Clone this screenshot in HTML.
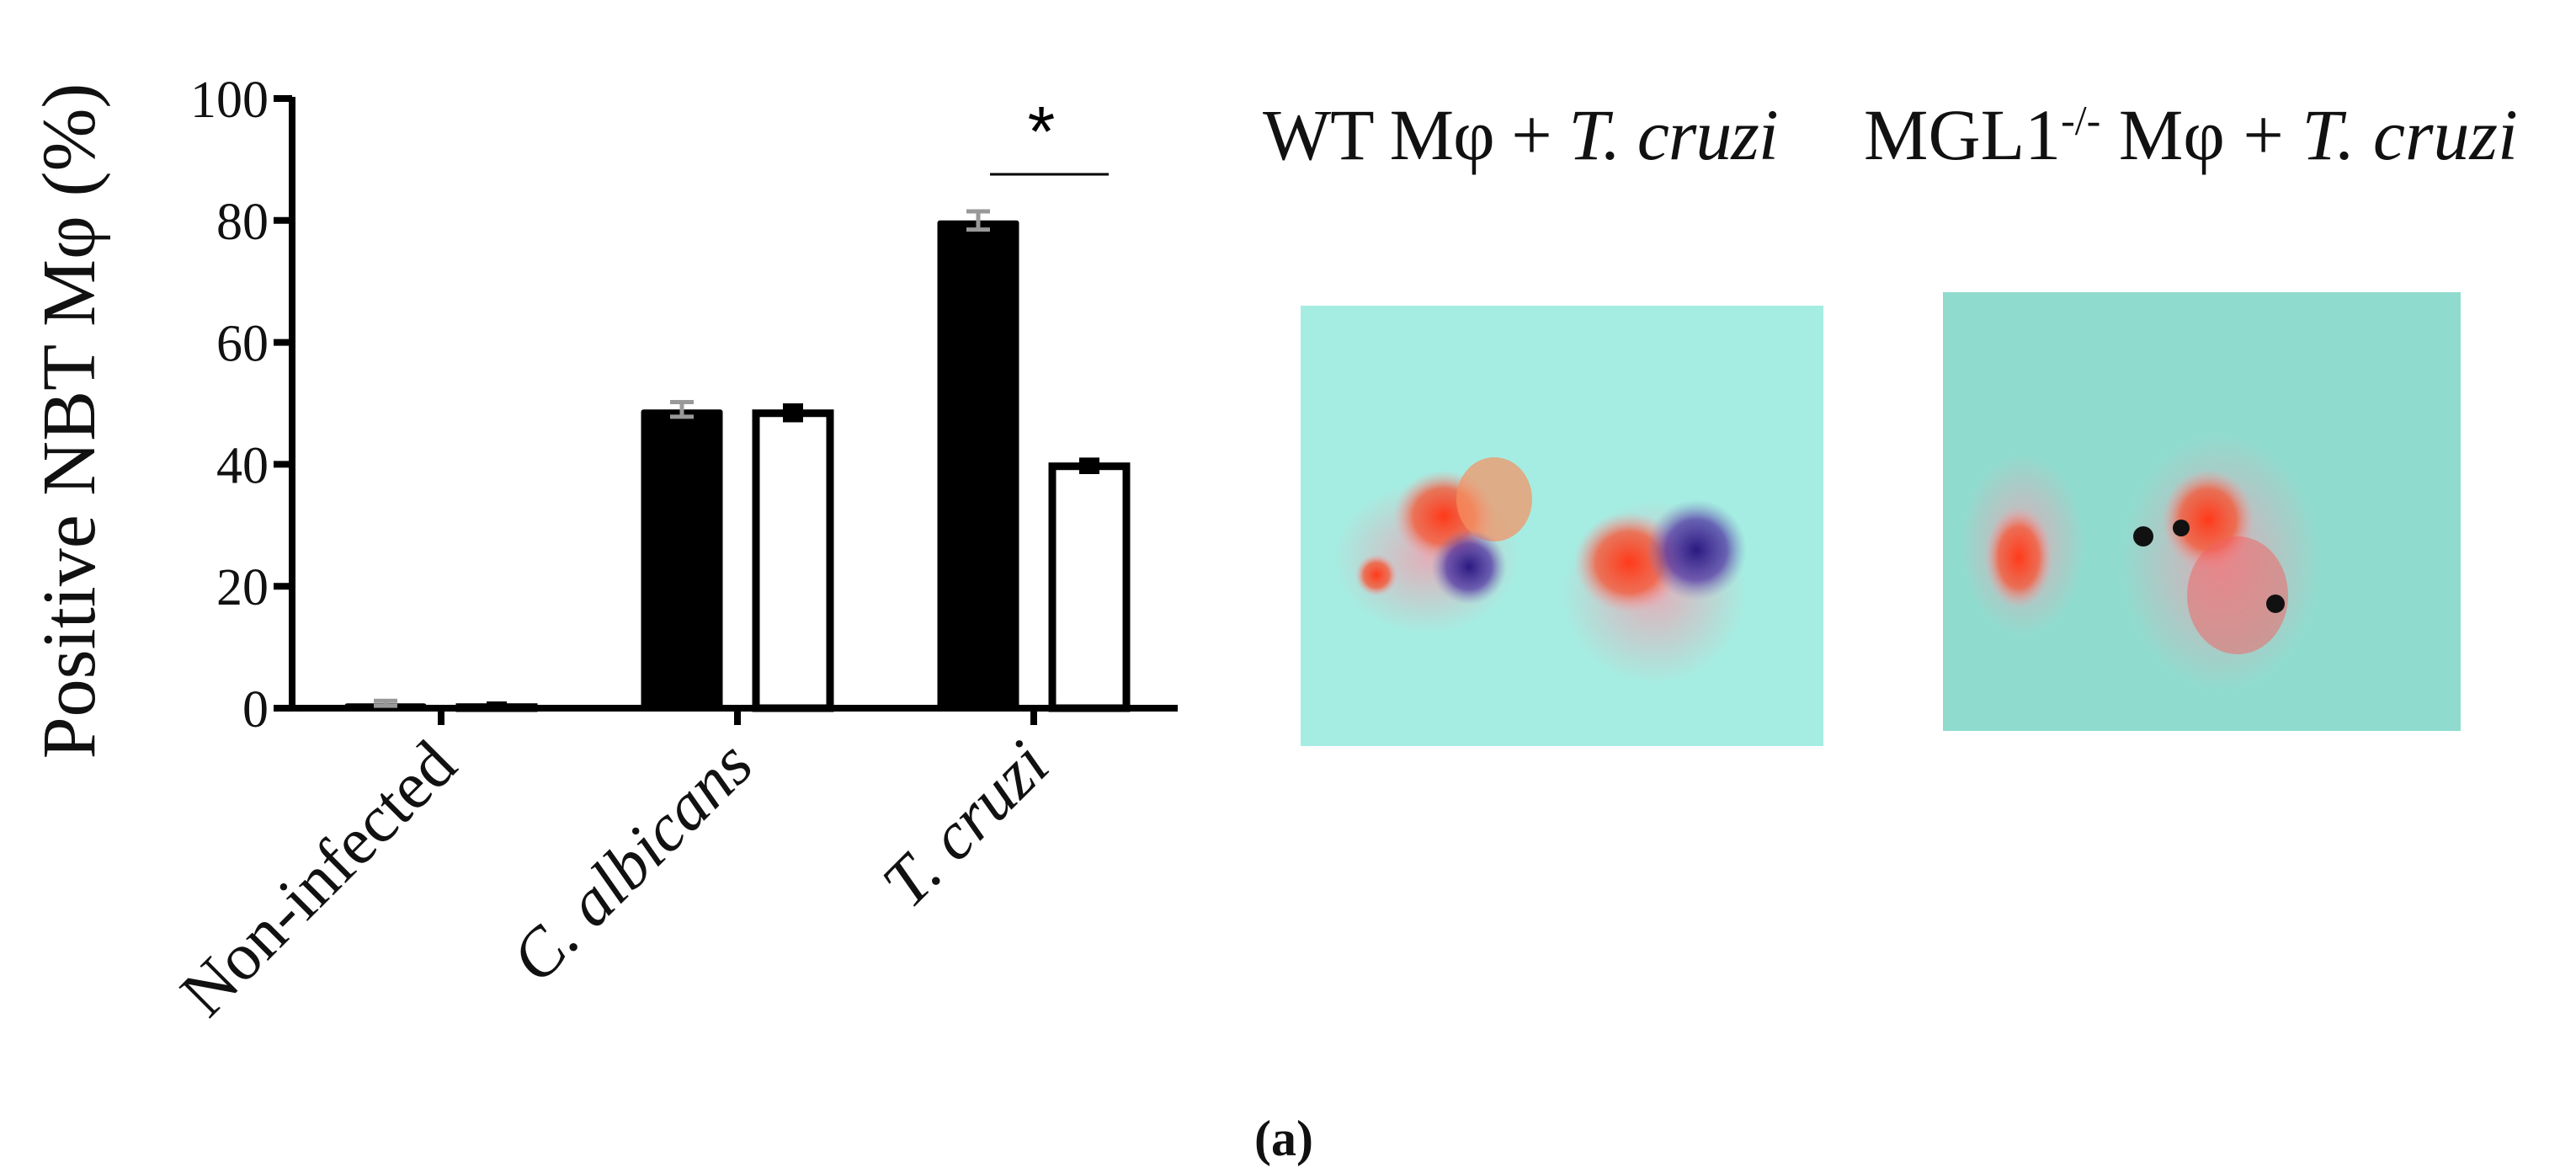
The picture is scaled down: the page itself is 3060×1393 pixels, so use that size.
<!DOCTYPE html>
<html><head><meta charset="utf-8"><style>
html,body{margin:0;padding:0;background:#fff;}
body{width:3060px;height:1393px;position:relative;overflow:hidden;font-family:"Liberation Serif",serif;}
.t{position:absolute;white-space:nowrap;color:#111;}
</style></head><body>
<svg id="chart" width="3060" height="1393" style="position:absolute;left:0;top:0" font-family="Liberation Serif, serif"></svg>

<div class="t" style="left:1500px;top:110px;font-size:86px;letter-spacing:-1px;">WT Mφ + <i>T. cruzi</i></div>
<div class="t" style="left:2214px;top:110px;font-size:86px;letter-spacing:0px;">MGL1<sup style="font-size:50px">-/-</sup> Mφ + <i>T. cruzi</i></div>

<svg style="position:absolute;left:1545px;top:363px" width="621" height="523">
<defs>
<radialGradient id="rg1"><stop offset="0" stop-color="#ff3a1a"/><stop offset="0.6" stop-color="#f55a3a" stop-opacity="0.8"/><stop offset="1" stop-color="#f7a0a8" stop-opacity="0"/></radialGradient>
<radialGradient id="bg1"><stop offset="0" stop-color="#2a1a80"/><stop offset="0.6" stop-color="#4a2aa0" stop-opacity="0.7"/><stop offset="1" stop-color="#8080c0" stop-opacity="0"/></radialGradient>
<radialGradient id="pk"><stop offset="0" stop-color="#f0a0b0" stop-opacity="0.8"/><stop offset="1" stop-color="#f0a0b0" stop-opacity="0"/></radialGradient>
</defs>
<rect width="621" height="523" fill="#a5ede2"/>
<ellipse cx="150" cy="300" rx="110" ry="90" fill="url(#pk)"/>
<ellipse cx="170" cy="250" rx="60" ry="55" fill="url(#rg1)"/>
<ellipse cx="230" cy="230" rx="45" ry="50" fill="#f79060" opacity="0.7"/>
<ellipse cx="200" cy="310" rx="45" ry="45" fill="url(#bg1)"/>
<ellipse cx="90" cy="320" rx="25" ry="25" fill="url(#rg1)"/>
<ellipse cx="420" cy="340" rx="110" ry="110" fill="url(#pk)"/>
<ellipse cx="390" cy="305" rx="65" ry="60" fill="url(#rg1)"/>
<ellipse cx="470" cy="290" rx="60" ry="60" fill="url(#bg1)"/>
</svg>

<svg style="position:absolute;left:2308px;top:347px" width="615" height="521">
<rect width="615" height="521" fill="#8fdccf"/>
<ellipse cx="95" cy="300" rx="75" ry="110" fill="url(#pk)"/>
<ellipse cx="90" cy="315" rx="40" ry="60" fill="url(#rg1)"/>
<ellipse cx="330" cy="320" rx="120" ry="155" fill="url(#pk)"/>
<ellipse cx="315" cy="270" rx="55" ry="60" fill="url(#rg1)"/>
<ellipse cx="350" cy="360" rx="60" ry="70" fill="#f36060" opacity="0.5"/>
<circle cx="238" cy="290" r="12" fill="#111"/><circle cx="283" cy="280" r="10" fill="#111"/><circle cx="395" cy="370" r="11" fill="#111"/>
</svg>

<div class="t" style="left:1490px;top:1318px;font-size:60px;font-weight:bold;">(a)</div>

<script>
const categories = ["Non-infected", "C. albicans", "T. cruzi"];
const italicCats = [false, true, true];
const wtValues = [0.8, 49, 80];
const wtErrors = [0.4, 1.2, 1.5];
const mglValues = [0.8, 49, 40.3];
const mglErrors = [0.3, 1.0, 0.8];
const yTicks = [0, 20, 40, 60, 80, 100];

const NS = "http://www.w3.org/2000/svg";
const svg = document.getElementById("chart");
const x0 = 347, x1 = 1399, yBase = 841, yTop = 117, yMax = 100;
const y = v => yBase - (v / yMax) * (yBase - yTop);
const catX = i => 524 + i * 352;
const barW = 97, off = 66;
function mk(tag, attrs) { const e = document.createElementNS(NS, tag); for (const k in attrs) e.setAttribute(k, attrs[k]); svg.appendChild(e); return e; }

let e = mk("line", {x1: x0, y1: yTop - 2, x2: x0, y2: yBase + 4, stroke: "#000", "stroke-width": 8});


e = mk("line", {x1: x0 - 4, y1: yBase, x2: x1, y2: yBase, stroke: "#000", "stroke-width": 8});



yTicks.forEach(t => {
  const tk = mk("line", {x1: x0 - 22, y1: y(t), x2: x0, y2: y(t), stroke: "#000", "stroke-width": 8});
  
  
  const lb = mk("text", {x: x0 - 28, y: y(t) + 22, "text-anchor": "end", "font-size": 62, fill: "#111"});
  lb.textContent = t;
  
  
});

const yt = mk("text", {x: 0, y: 0, "text-anchor": "middle", "font-size": 90, fill: "#111", transform: "translate(112,500) rotate(-90)"});
yt.textContent = "Positive NBT Mφ (%)";



categories.forEach((c, i) => {
  const cx = catX(i);
  const tk = mk("line", {x1: cx, y1: yBase, x2: cx, y2: yBase + 20, stroke: "#000", "stroke-width": 8});
  
  
  const lb = mk("text", {x: 0, y: 0, "text-anchor": "end", "font-size": 80, fill: "#111", "font-style": italicCats[i] ? "italic" : "normal", transform: `translate(${cx + 22},${yBase + 72}) rotate(-45)`});
  lb.textContent = c;
  
  

  const bx = cx - off - barW / 2, by = y(wtValues[i]);
  const b = mk("rect", {x: bx, y: by, width: barW, height: Math.max(yBase - by, 4), fill: "#000", rx: 3});
  
  
  const ecx = cx - off;
  const eh = mk("path", {d: `M${ecx},${y(wtValues[i] + wtErrors[i])} V${y(wtValues[i] - wtErrors[i])} M${ecx - 14},${y(wtValues[i] + wtErrors[i])} h28 M${ecx - 14},${y(wtValues[i] - wtErrors[i])} h28`, stroke: "#999", "stroke-width": 5, fill: "none"});
  
  

  const wx = cx + off - barW / 2, wy = y(mglValues[i]);
  const w = mk("rect", {x: wx + 4.5, y: wy + 4.5, width: barW - 9, height: Math.max(yBase - wy - 4.5, 1), fill: "#fff", stroke: "#000", "stroke-width": 9});
  
  
  const mcx = cx + off;
  const me = mk("path", {d: `M${mcx - 12},${y(mglValues[i] + mglErrors[i])} h24 v${y(mglValues[i] - mglErrors[i]) - y(mglValues[i] + mglErrors[i]) + 8} h-24 z`, fill: "#000"});
  
  
});

const sig = mk("line", {x1: catX(2) - 52, y1: 207, x2: catX(2) + 89, y2: 207, stroke: "#000", "stroke-width": 3});


const ast = mk("text", {x: catX(2) + 9, y: 185, "text-anchor": "middle", "font-size": 84, "font-family": "Liberation Sans, sans-serif", fill: "#000"});
ast.textContent = "*";


</script>
</body></html>
